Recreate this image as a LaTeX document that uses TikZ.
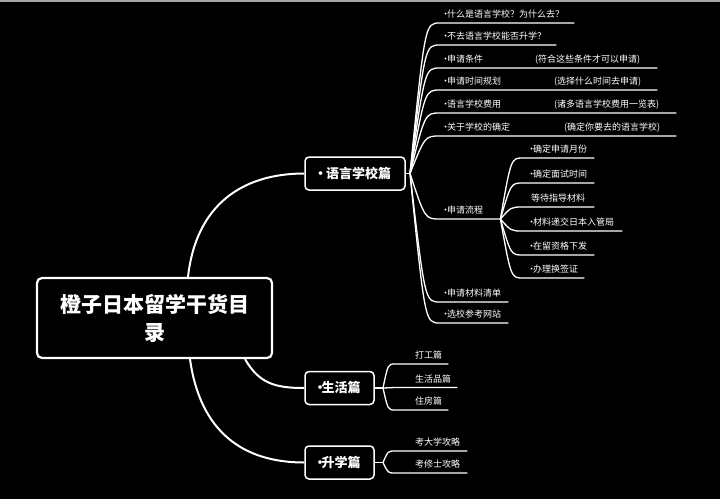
\documentclass[tikz,border=0pt]{standalone}
\usepackage{fontspec}
\setmainfont{Noto Sans CJK SC}
\newcommand{\dotmark}{\makebox[3pt][c]{·}}

\begin{document}
\begin{tikzpicture}[x=1pt, y=-1pt, font=\fontsize{9}{11}\selectfont, color=white,
      root/.style={draw, line width=2.2pt, rounded corners=5pt, align=center, minimum width=235pt, minimum height=80pt, font=\fontsize{21}{28}\selectfont\bfseries},
      part/.style={draw, line width=1.5pt, rounded corners=4pt, minimum height=33pt, inner sep=0pt, font=\fontsize{13}{15}\selectfont\bfseries},
      leaf/.style={anchor=south west, inner xsep=0pt, inner ysep=5pt, text depth=0pt, align=left},
      branch/.style={line width=2pt},
      twig/.style={line width=1.3pt}]
    % canvas
    \fill[black] (0,0) rectangle (720,499);
    \useasboundingbox (0,0) rectangle (720,499);
    \draw[gray!70, line width=1.5pt] (0,0.75) -- (720,0.75);
    % main nodes
    \node[root] (title) at (154.5,318) {橙子日本留学干货目\\录};
    \node[part, minimum width=100pt] (lang) at (355,173.5) {\dotmark\hspace{4pt}语言学校篇};
    \node[part, minimum width=69pt] (life) at (339.5,388) {\dotmark 生活篇};
    \node[part, minimum width=69pt] (rise) at (339.5,462.5) {\dotmark 升学篇};
    \draw[branch] ([xshift=33.5pt]title.north) .. controls +(8,-72) and +(-62,0) .. (lang.west);
    \draw[branch] ([xshift=90.5pt]title.south) .. controls +(14,24) and +(-30,0) .. (life.west);
    \draw[branch] ([xshift=35.5pt]title.south) .. controls +(10,72) and +(-62,0) .. (rise.west);
    % language school
    \coordinate (lb) at (410,173.5);
    \coordinate (lsp) at (425,173.5);
    \draw[twig] (lang.east) -- (lb);
    \node[leaf, text width=134pt] (q1) at (440,23) {\hspace*{4pt}\dotmark 什么是语言学校？为什么去？};
    \node[leaf, text width=116pt] (q2) at (440,45) {\hspace*{4pt}\dotmark 不去语言学校能否升学？};
    \node[leaf, text width=217pt] (q3) at (440,68) {\hspace*{4pt}\makebox[91pt][l]{\dotmark 申请条件}(符合这些条件才可以申请)};
    \node[leaf, text width=217pt] (q4) at (440,90) {\hspace*{4pt}\makebox[110pt][l]{\dotmark 申请时间规划}(选择什么时间去申请)};
    \node[leaf, text width=236pt] (q5) at (440,113) {\hspace*{4pt}\makebox[110pt][l]{\dotmark 语言学校费用}(诸多语言学校费用一览表)};
    \node[leaf, text width=236pt] (q6) at (440,136) {\hspace*{4pt}\makebox[120pt][l]{\dotmark 关于学校的确定}(确定你要去的语言学校)};
    \node[leaf, text width=60pt] (q7) at (440,219) {\hspace*{4pt}\dotmark 申请流程};
    \node[leaf, text width=68pt] (q8) at (440,302) {\hspace*{4pt}\dotmark 申请材料清单};
    \node[leaf, text width=68pt] (q9) at (440,323) {\hspace*{4pt}\dotmark 选校参考网站};
    \draw[twig] (lb) .. controls (q1.south west -| lsp) .. (q1.south west) -- (q1.south east);
    \draw[twig] (lb) .. controls (q2.south west -| lsp) .. (q2.south west) -- (q2.south east);
    \draw[twig] (lb) .. controls (q3.south west -| lsp) .. (q3.south west) -- (q3.south east);
    \draw[twig] (lb) .. controls (q4.south west -| lsp) .. (q4.south west) -- (q4.south east);
    \draw[twig] (lb) .. controls (q5.south west -| lsp) .. (q5.south west) -- (q5.south east);
    \draw[twig] (lb) .. controls (q6.south west -| lsp) .. (q6.south west) -- (q6.south east);
    \draw[twig] (lb) .. controls (q7.south west -| lsp) .. (q7.south west) -- (q7.south east);
    \draw[twig] (lb) .. controls (q8.south west -| lsp) .. (q8.south west) -- (q8.south east);
    \draw[twig] (lb) .. controls (q9.south west -| lsp) .. (q9.south west) -- (q9.south east);
    % application steps
    \coordinate (psp) at (511,219);
    \node[leaf, text width=71pt] (s1) at (523,158) {\hspace*{7pt}\dotmark 确定申请月份};
    \node[leaf, text width=71pt] (s2) at (523,183) {\hspace*{7pt}\dotmark 确定面试时间};
    \node[leaf, text width=71pt] (s3) at (523,207) {\hspace*{8pt}等待指导材料};
    \node[leaf, text width=99pt] (s4) at (523,231) {\hspace*{7pt}\dotmark 材料递交日本入管局};
    \node[leaf, text width=71pt] (s5) at (523,255) {\hspace*{7pt}\dotmark 在留资格下发};
    \node[leaf, text width=61pt] (s6) at (523,278) {\hspace*{7pt}\dotmark 办理换签证};
    \draw[twig] (q7.south east) .. controls (s1.south west -| psp) .. (s1.south west) -- (s1.south east);
    \draw[twig] (q7.south east) .. controls (s2.south west -| psp) .. (s2.south west) -- (s2.south east);
    \draw[twig] (q7.south east) .. controls (s3.south west -| psp) .. (s3.south west) -- (s3.south east);
    \draw[twig] (q7.south east) .. controls (s4.south west -| psp) .. (s4.south west) -- (s4.south east);
    \draw[twig] (q7.south east) .. controls (s5.south west -| psp) .. (s5.south west) -- (s5.south east);
    \draw[twig] (q7.south east) .. controls (s6.south west -| psp) .. (s6.south west) -- (s6.south east);
    % daily life
    \coordinate (fb) at (383,388);
    \coordinate (fsp) at (388,388);
    \draw[twig] (life.east) -- (fb);
    \node[leaf, text width=53pt] (f1) at (395,364) {\hspace*{20pt}打工篇};
    \node[leaf, text width=62pt] (f2) at (395,387.5) {\hspace*{20pt}生活品篇};
    \node[leaf, text width=53pt] (f3) at (395,410) {\hspace*{20pt}住房篇};
    \draw[twig] (fb) .. controls (f1.south west -| fsp) .. (f1.south west) -- (f1.south east);
    \draw[twig] (fb) -- (f2.south west) -- (f2.south east);
    \draw[twig] (fb) .. controls (f3.south west -| fsp) .. (f3.south west) -- (f3.south east);
    % further study
    \coordinate (ub) at (383,462.5);
    \coordinate (usp) at (388,462.5);
    \draw[twig] (rise.east) -- (ub);
    \node[leaf, text width=72pt] (u1) at (395,451) {\hspace*{20pt}考大学攻略};
    \node[leaf, text width=72pt] (u2) at (395,473) {\hspace*{20pt}考修士攻略};
    \draw[twig] (ub) .. controls (u1.south west -| usp) .. (u1.south west) -- (u1.south east);
    \draw[twig] (ub) .. controls (u2.south west -| usp) .. (u2.south west) -- (u2.south east);
  \end{tikzpicture}
\end{document}
